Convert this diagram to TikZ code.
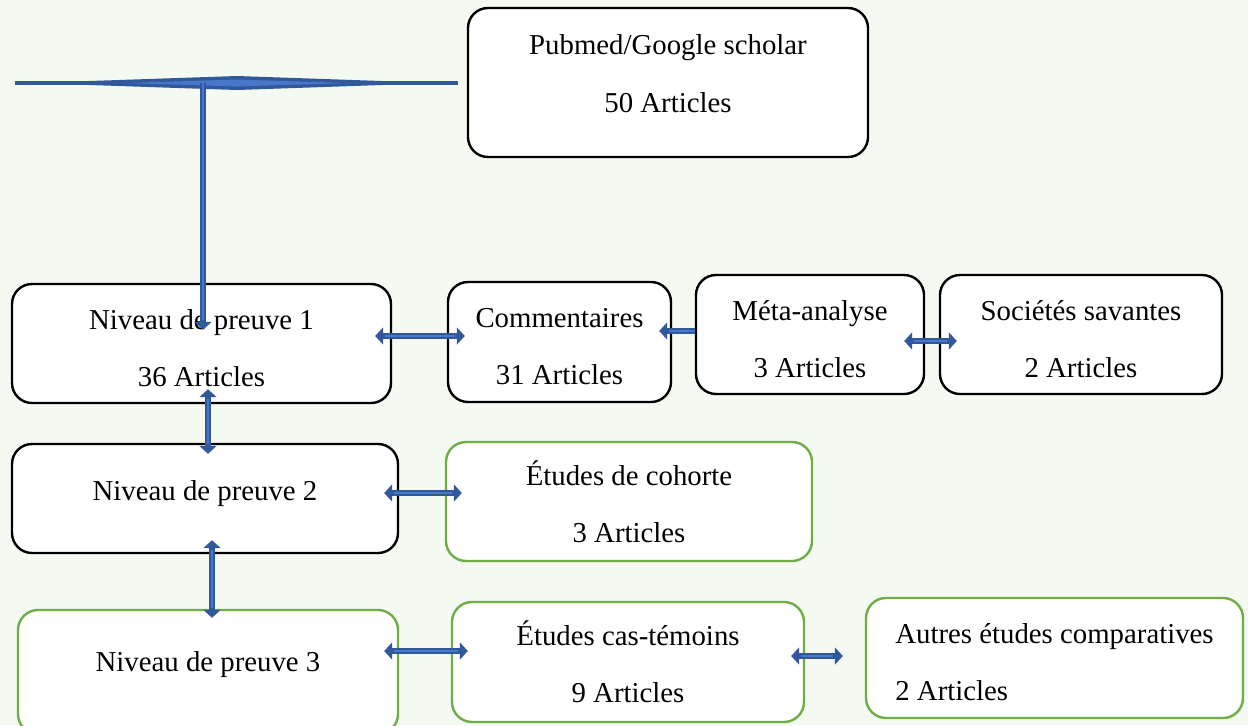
\documentclass[tikz,border=0pt]{standalone}
\usepackage{fontspec}
\setmainfont{Liberation Serif}
\usetikzlibrary{arrows.meta, positioning, calc}
\definecolor{bgcol}{RGB}{244,249,241}
\definecolor{boxgreen}{RGB}{112,173,71}
\definecolor{arrowblue}{RGB}{50,88,156}
\definecolor{arrowlight}{RGB}{72,118,200}
% struts to nudge the text inside a box
\newcommand\txtdown[1]{\rule{0pt}{#1}}
\newcommand\txtup[1]{\rule[-#1]{0pt}{#1}}
\tikzset{
  box/.style={draw=black, line width=1.2pt, fill=white, rounded corners=10pt,
    align=center, inner sep=0pt, font=\fontsize{14.4}{28.5}\selectfont},
  greenbox/.style={box, draw=boxgreen},
  link/.style={draw=arrowblue, line width=3.4pt, {Triangle[width=8.5pt,length=4pt]}-{Triangle[width=8.5pt,length=4pt]},
    postaction={draw=arrowlight, line width=1pt, -, shorten <=5pt, shorten >=5pt}},
  onelink/.style={link, -{Triangle[width=8.5pt,length=4pt]},
    postaction={draw=arrowlight, line width=1pt, -, shorten >=5pt}},
}
\begin{document}
\begin{tikzpicture}[x=0.5pt, y=-0.5pt]
  \useasboundingbox (0,0) rectangle (1248,725);
  \clip (0,0) rectangle (1248,725);
  \fill[bgcol] (0,0) rectangle (1248,725);

  % source
  \node[box, minimum width=200pt, minimum height=74.5pt] (pub) at (668,82.5) {Pubmed/Google scholar\\50 Articles\txtup{9pt}};

  % spread bar
  \draw[arrowblue, line width=1.8pt] (15,83) -- (458,83);
  \fill[arrowblue] (30,83) -- (237,76) -- (440,83) -- (237,90) -- cycle;
  \fill[arrowlight] (126,83) -- (237,79.5) -- (348,83) -- (237,86.5) -- cycle;
  \coordinate (stem) at (203,83);

  % level 1
  \node[box, minimum width=189.5pt, minimum height=59.5pt] (n1) at (201.5,343.5) {\txtdown{15pt}Niveau de preuve 1\\36 Articles};
  \node[box, minimum width=111.5pt, minimum height=60pt] (comm) at (559.5,342) {\txtdown{14.5pt}Commentaires\\31 Articles};
  \node[box, minimum width=114pt, minimum height=59.5pt] (meta) at (810,334.5) {\txtdown{15pt}Méta-analyse\\3 Articles};
  \node[box, minimum width=141pt, minimum height=59.5pt] (soc) at (1081,334.5) {\txtdown{15pt}Sociétés savantes\\2 Articles};

  % level 2
  \node[box, minimum width=193pt, minimum height=54.5pt] (n2) at (205,498.5) {Niveau de preuve 2\txtup{8pt}};
  \node[greenbox, minimum width=183pt, minimum height=59.5pt] (coh) at (629,501.5) {Études de cohorte\\3 Articles};

  % level 3
  \node[greenbox, minimum width=190pt, minimum height=62pt] (n3) at (208,672) {Niveau de preuve 3\txtup{11pt}};
  \node[greenbox, minimum width=176pt, minimum height=60pt] (cas) at (628,662) {Études cas-témoins\\9 Articles};
  \node[greenbox, minimum width=188.5pt, minimum height=60pt, align=left] (aut) at (1054.5,658) {\txtdown{14pt}Autres études comparatives\\2 Articles};

  % connectors
  \draw[onelink] (stem) -- ($(n1.north)+(1.5,47)$);
  \draw[link] ($(n1.east)+(-17,-7.5)$) -- ($(n1.east -| comm.west)+(18,-7.5)$);
  \draw[onelink] ($(meta.west)+(0,-3.5)$) -- ($(meta.west -| comm.east)+(-13,-3.5)$);
  \draw[link] ($(meta.east)+(-21,6.5)$) -- ($(meta.east -| soc.west)+(18,6.5)$);
  \draw[link] ($(n1.south)+(6.5,-15)$) -- ($(n1.south |- n2.north)+(6.5,11)$);
  \draw[link] ($(n2.east)+(-15,-5.5)$) -- ($(n2.east -| coh.west)+(17,-5.5)$);
  \draw[link] ($(n2.south)+(7,-14)$) -- ($(n2.south |- n3.north)+(7,9)$);
  \draw[link] ($(n3.east)+(-15,-21)$) -- ($(n3.east -| cas.west)+(17,-21)$);
  \draw[link] ($(cas.east)+(-14,-6)$) -- ($(cas.east -| aut.west)+(-22,-6)$);
\end{tikzpicture}
\end{document}
